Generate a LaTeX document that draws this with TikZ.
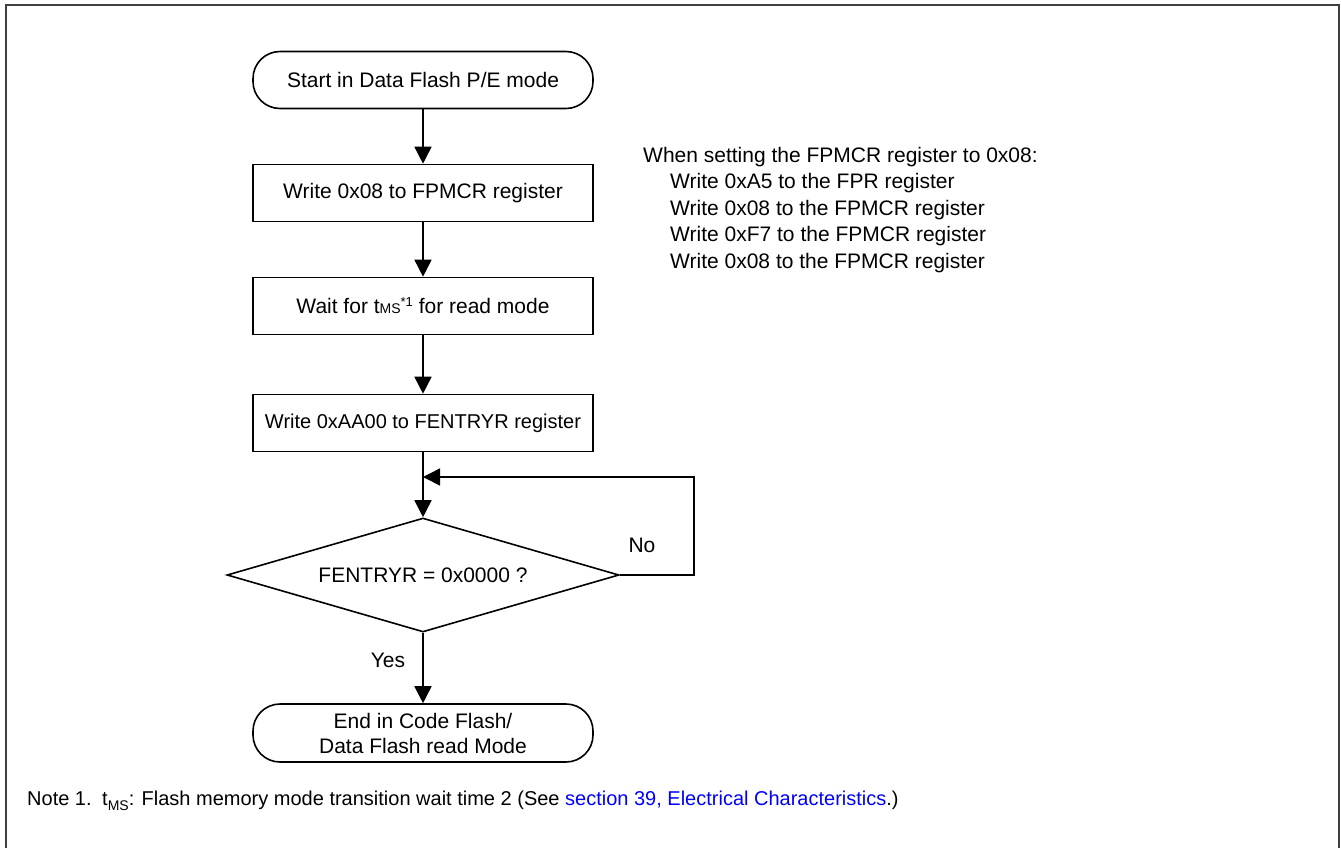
\documentclass[tikz,border=0pt]{standalone}
\usepackage{fontspec}
\setmainfont{Liberation Sans}
\usetikzlibrary{shapes.geometric,arrows.meta}
\definecolor{linkblue}{RGB}{0,0,255}
\definecolor{framegray}{RGB}{64,64,64}
\tikzset{
  every node/.style={font=\fontsize{21}{25}\selectfont},
  term/.style={draw, line width=1.6pt, rounded corners=27pt, minimum width=340pt, minimum height=57pt, align=center},
  proc/.style={draw, line width=1.6pt, minimum width=340pt, minimum height=57pt},
  decide/.style={draw, diamond, line width=1.6pt, aspect=3.44, minimum width=392pt, minimum height=114pt, inner sep=0pt},
  flow/.style={line width=1.6pt, -{Triangle[length=17pt,width=17pt]}},
  notefont/.style={font=\fontsize{20}{24}\selectfont},
}
\newcommand{\smallms}{{\fontsize{14}{16}\selectfont MS}}
\begin{document}
\begin{tikzpicture}[x=1pt, y=-1pt]
  \useasboundingbox (0,0) rectangle (1341,847);
  % Rahmen (unten offen)
  \draw[framegray, line width=2pt] (6,870) |- (1339,5) -- (1339,870);
  % Ablauf
  \node[term] (start) at (423,80) {Start in Data Flash P/E mode};
  \node[proc] (wr08) at (423,193) {Write 0x08 to FPMCR register};
  \node[proc] (waitms) at (423,306) {Wait for t\smallms\raisebox{7pt}{\fontsize{13}{14}\selectfont *1} for read mode};
  \node[proc, notefont] (wrfent) at (423,423) {Write 0xAA00 to FENTRYR register};
  \node[decide] (chk) at (423,575) {FENTRYR = 0x0000 ?};
  \node[term, minimum height=58pt] (finish) at (423,733) {End in Code Flash/\\Data Flash read Mode};
  % Verbindungen
  \coordinate (merge) at (423,477);
  \coordinate (loopc) at (694,477);
  \draw[flow] (start) -- (wr08);
  \draw[flow] (wr08) -- (waitms);
  \draw[flow] (waitms) -- (wrfent);
  \draw[flow] (wrfent) -- (chk);
  \draw[flow] (chk.east) -| (loopc) -- (merge);
  \draw[flow] (chk) -- (finish);
  \node (nolbl) at (642,545) {No};
  \node (yeslbl) at (388,660) {Yes};
  % Hinweis FPMCR-Sequenz
  \node[anchor=base west, inner sep=0pt] (fpmcrhead) at (643,162) {When setting the FPMCR register to 0x08:};
  \foreach \txt [count=\i] in {Write 0xA5 to the FPR register, Write 0x08 to the FPMCR register,
      Write 0xF7 to the FPMCR register, Write 0x08 to the FPMCR register}{
    \node[anchor=base west, inner sep=0pt] (fpmcr\i) at (670,{162+26.5*\i}) {\txt};
  }
  % Fussnote
  \node[notefont, anchor=base west, inner sep=0pt] (notelbl) at (27,805) {Note 1.};
  \node[notefont, anchor=base west, inner sep=0pt] (notetxt) at (102,805) {t\raisebox{-5pt}{\smallms}: Flash memory mode transition wait time 2 (See \textcolor{linkblue}{section 39, Electrical Characteristics}.)};
\end{tikzpicture}
\end{document}
